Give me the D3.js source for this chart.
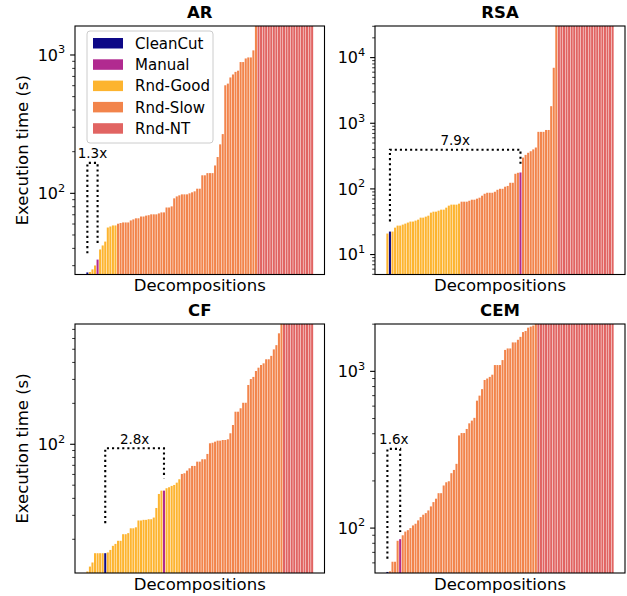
<!DOCTYPE html>
<html>
<head>
<meta charset="utf-8">
<script src="https://cdn.jsdelivr.net/npm/d3@7"></script>
<style>
  body { margin: 0; background: #fff; }
  svg { font-family: "DejaVu Sans", sans-serif; }
</style>
</head>
<body>
<div id="chart"></div>
<script>
// categories and their colours (plasma-ish)
const categories = ["CleanCut", "Manual", "Rnd-Good", "Rnd-Slow", "Rnd-NT"];
const categoryColors = ["#0d0887", "#b12a90", "#fdb42f", "#f2844b", "#e16462"];
const codes = { C: "CleanCut", M: "Manual", G: "Rnd-Good", S: "Rnd-Slow", N: "Rnd-NT" };

// bars are sorted by execution time; runs give the category of each bar in order.
// times cover the bars that finished, Rnd-NT bars (no time) run past the top.
const arRuns = [["C", 1], ["G", 3], ["M", 1], ["G", 7], ["S", 55], ["N", 22]];
const arTimes = [26.8, 27, 28.2, 30.1, 33.2, 39.3, 42, 44.8, 56.6, 57.6, 58.6, 58.6, 60.3, 61, 61.6, 61.6,
  61.6, 63.7, 64.8, 66, 66, 68, 68, 69, 69.5, 70.5, 70.5, 70.5, 71.6, 72.8, 72.8, 79, 79, 80.5, 92, 95,
  96.7, 98.3, 98.3, 98.3, 100, 101.7, 103.4, 108, 108, 135, 135, 140, 140, 140, 159, 183, 226, 268, 604,
  621, 688, 723, 755, 770, 889, 889, 944, 960, 960, 1080, 2500];

const rsaRuns = [["G", 1], ["C", 1], ["G", 27], ["S", 23], ["M", 1], ["S", 14], ["N", 22]];
const rsaTimes = [20.9, 22.4, 22.4, 25.7, 27.6, 27.6, 28.6, 29.6, 30.7, 31.8, 31.8, 32.9, 34, 36.5, 36.5,
  37.8, 39.1, 43.5, 45, 45, 46.6, 48.3, 48.3, 51.8, 55.6, 57.6, 57.6, 57.6, 59.6, 63.9, 63.9, 63.9, 66,
  68.5, 68.5, 71, 73.5, 78.8, 84.4, 87.4, 87.4, 87.4, 90.5, 97, 100.4, 100.4, 108, 111, 124, 124, 170,
  176, 178, 300, 330, 355, 375, 400, 427, 740, 740, 740, 790, 790, 1820, 7000, 40000];

const cfRuns = [["G", 7], ["C", 1], ["G", 22], ["M", 1], ["G", 6], ["S", 40], ["N", 12]];
const cfTimes = [11.6, 12.6, 13.5, 15.8, 15.8, 15.8, 15.8, 15.8, 16, 16.7, 17.9, 18.5, 19.5, 19.5, 21.8,
  21.8, 22.2, 24.1, 24.1, 24.5, 27.5, 27.5, 27.8, 27.8, 28.1, 28.1, 28.9, 34, 43.1, 45.6, 45.6, 47.5,
  48.3, 49.4, 50.2, 52.2, 55.3, 60.5, 61.2, 64, 66.6, 69.3, 69.3, 74.5, 74.5, 77.6, 77.6, 84.9, 101.7,
  102.6, 104.5, 106.3, 106.3, 107.5, 107.5, 108.8, 120.5, 138.6, 173.6, 173.6, 184, 202, 202, 273, 302,
  313, 346, 366, 383, 394, 422, 422, 447, 499, 536, 655, 1000];

const cemRuns = [["C", 1], ["S", 4], ["M", 1], ["S", 53], ["N", 30]];
const cemTimes = [52.5, 53, 61, 61, 83, 85, 90, 95, 97, 100, 104, 106.6, 112, 117.5, 121.7, 124.6, 129.6,
  137.5, 146.5, 154, 167, 167, 187, 196, 199, 224, 235, 257, 390, 404, 404, 429, 466, 485, 505, 650, 700,
  770, 881, 900, 922, 952, 1097, 1097, 1097, 1180, 1370, 1400, 1400, 1530, 1530, 1590, 1660, 1780, 1810,
  1900, 1930, 1960, 2500];

// y ranges (s)
const arYDomain = [25.9, 1620];
const rsaYDomain = [4.97, 30300];
const cfYDomain = [11.3, 767];
const cemYDomain = [51.7, 2005];

// speedup brackets: bar indices, where the legs start (s), height of the top (s), label
const arBracket = { left: 0, right: 4, leftFrom: 36.9, rightFrom: 43.4, top: 166, label: "1.3x" };
const rsaBracket = { left: 1, right: 52, leftFrom: 32, rightFrom: 230, top: 395, label: "7.9x" };
const cfBracket = { left: 7, right: 30, leftFrom: 26.3, rightFrom: 56.2, top: 93.4, label: "2.8x" };
const cemBracket = { left: 0, right: 5, leftFrom: 63.8, rightFrom: 94.3, top: 320, label: "1.6x" };

const W = 627, H = 596;
const color = d3.scaleOrdinal().domain(categories).range(categoryColors);

const panels = [
  { title: "AR", runs: arRuns, times: arTimes, yDomain: arYDomain, bracket: arBracket,
    box: { x0: 75, x1: 324.5, y0: 26, y1: 274.5 }, ylabel: true, legend: true },
  { title: "RSA", runs: rsaRuns, times: rsaTimes, yDomain: rsaYDomain, bracket: rsaBracket,
    box: { x0: 375, x1: 625, y0: 26, y1: 274.5 } },
  { title: "CF", runs: cfRuns, times: cfTimes, yDomain: cfYDomain, bracket: cfBracket,
    box: { x0: 75, x1: 324.5, y0: 324, y1: 573 }, ylabel: true },
  { title: "CEM", runs: cemRuns, times: cemTimes, yDomain: cemYDomain, bracket: cemBracket,
    box: { x0: 375, x1: 625, y0: 324, y1: 573 } }
];

const svg = d3.select("#chart").append("svg")
  .attr("width", W)
  .attr("height", H);

panels.forEach((p, pi) => {
  const b = p.box;
  const kinds = [];
  p.runs.forEach(([c, n]) => { for (let k = 0; k < n; k++) kinds.push(codes[c]); });
  const N = kinds.length;
  const data = kinds.map((k, i) => ({ i: i, kind: k, t: i < p.times.length ? p.times[i] : null }));

  // matplotlib-like autoscale: bars of width 0.8 plus 5% margins
  const span = N - 0.2;
  const x = d3.scaleLinear()
    .domain([-0.4 - 0.05 * span, N - 1 + 0.4 + 0.05 * span])
    .range([b.x0, b.x1]);
  const y = d3.scaleLog().domain(p.yDomain).range([b.y1, b.y0]);

  const g = svg.append("g");

  svg.append("clipPath").attr("id", "clip" + pi)
    .append("rect")
    .attr("x", b.x0).attr("y", b.y0)
    .attr("width", b.x1 - b.x0).attr("height", b.y1 - b.y0);

  // bars
  g.append("g").attr("clip-path", `url(#clip${pi})`)
    .selectAll("rect")
    .data(data)
    .enter()
    .append("rect")
    .attr("x", d => x(d.i - 0.4))
    .attr("width", d => x(d.i + 0.4) - x(d.i - 0.4))
    .attr("y", d => d.t === null ? b.y0 - 2 : y(d.t))
    .attr("height", d => b.y1 - (d.t === null ? b.y0 - 2 : y(d.t)))
    .attr("fill", d => color(d.kind));

  // speedup bracket
  const br = p.bracket;
  const pts = [[br.left, br.leftFrom], [br.left, br.top], [br.right, br.top], [br.right, br.rightFrom]];
  g.append("path")
    .attr("d", d3.line().x(d => x(d[0])).y(d => y(d[1]))(pts))
    .attr("fill", "none")
    .attr("stroke", "#000")
    .attr("stroke-width", 2.1)
    .attr("stroke-dasharray", "2.1,3");
  g.append("text")
    .attr("x", (x(br.left) + x(br.right)) / 2)
    .attr("y", y(br.top) - 4.5)
    .attr("text-anchor", "middle")
    .style("font-size", "13.5px")
    .style("fill", "#000")
    .text(br.label);

  // y ticks (log, major + minor)
  const lo = Math.floor(Math.log10(p.yDomain[0])), hi = Math.ceil(Math.log10(p.yDomain[1]));
  const ticks = [];
  for (let e = lo; e <= hi; e++) {
    for (let k = 1; k <= 9; k++) {
      const v = k * Math.pow(10, e);
      if (v >= p.yDomain[0] && v <= p.yDomain[1]) ticks.push({ v: v, major: k === 1, e: e });
    }
  }
  g.selectAll("line.tick")
    .data(ticks)
    .enter()
    .append("line")
    .attr("class", "tick")
    .attr("x1", d => b.x0 - (d.major ? 4.9 : 2.8))
    .attr("x2", b.x0)
    .attr("y1", d => y(d.v))
    .attr("y2", d => y(d.v))
    .attr("stroke", "#000")
    .attr("stroke-width", d => d.major ? 1.1 : 0.8);
  ticks.filter(d => d.major).forEach(d => {
    const t = g.append("text")
      .attr("x", b.x0 - 9.8)
      .attr("y", y(d.v) + 5.8)
      .attr("text-anchor", "end")
      .style("font-size", "16px")
      .style("fill", "#000");
    t.append("tspan").text("10");
    t.append("tspan").attr("dy", -7.5).style("font-size", "11.3px").text(d.e);
  });

  // frame
  g.append("rect")
    .attr("x", b.x0).attr("y", b.y0)
    .attr("width", b.x1 - b.x0).attr("height", b.y1 - b.y0)
    .attr("fill", "none")
    .attr("stroke", "#000")
    .attr("stroke-width", 1.1);

  // title and axis labels
  g.append("text")
    .attr("x", (b.x0 + b.x1) / 2)
    .attr("y", b.y0 - 8.5)
    .attr("text-anchor", "middle")
    .style("font-size", "16.5px")
    .style("font-weight", "bold")
    .text(p.title);
  g.append("text")
    .attr("x", (b.x0 + b.x1) / 2)
    .attr("y", b.y1 + 16.5)
    .attr("text-anchor", "middle")
    .style("font-size", "16.5px")
    .text("Decompositions");
  if (p.ylabel) {
    g.append("text")
      .attr("transform", `translate(27.5,${(b.y0 + b.y1) / 2}) rotate(-90)`)
      .attr("text-anchor", "middle")
      .style("font-size", "16.5px")
      .text("Execution time (s)");
  }

  // legend
  if (p.legend) {
    const lg = g.append("g");
    lg.append("rect")
      .attr("x", 87).attr("y", 31)
      .attr("width", 126).attr("height", 112)
      .attr("rx", 3)
      .attr("fill", "#fff").attr("fill-opacity", 0.8)
      .attr("stroke", "#cccccc").attr("stroke-width", 1);
    categories.forEach((c, k) => {
      const cy = 43.3 + k * 21.3;
      lg.append("rect")
        .attr("x", 93).attr("y", cy - 5.3)
        .attr("width", 30).attr("height", 10.5)
        .attr("fill", color(c));
      lg.append("text")
        .attr("x", 135).attr("y", cy + 5.4)
        .style("font-size", "15px")
        .text(c);
    });
  }
});
</script>
</body>
</html>
